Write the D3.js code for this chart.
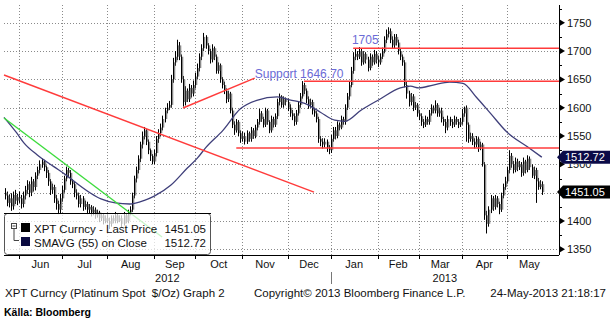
<!DOCTYPE html>
<html><head><meta charset="utf-8">
<script src="https://cdn.jsdelivr.net/npm/d3@7"></script>
<style>body{margin:0;background:#fff}svg{display:block;font-family:"Liberation Sans",Arial,sans-serif}</style>
</head><body><svg id="c" width="612" height="322"></svg>
<script>
// ---- DATA ----
const monthLabels = ["Jun","Jul","Aug","Sep","Oct","Nov","Dec","Jan","Feb","Mar","Apr","May"];
const monthStart  = [0,21,43,66,86,109,131,152,175,195,216,238]; // trading-day index of month start
const yearLabels = ["2012","2013"];
const yearStart = [-7.3,152];
const yTicks = [1350,1400,1450,1500,1550,1600,1650,1700,1750];

const closeMay12=[1445,1432,1440,1426,1446,1436,1442];
const highMay12=[1458,1452,1447,1449,1452,1455,1448];
const lowMay12=[1438,1426,1424,1418,1420,1430,1428];
const closeJun12=[1440,1430,1445,1455,1465,1450,1470,1460,1480,1490,1500,1505,1495,1485,1470,1455,1460,1440,1430,1420,1440];
const highJun12=[1452,1446,1452,1462,1472,1470,1478,1474,1486,1496,1507,1510,1508,1498,1490,1474,1466,1464,1446,1436,1448];
const lowJun12=[1432,1422,1424,1438,1448,1442,1444,1452,1454,1474,1484,1494,1488,1476,1462,1446,1448,1432,1420,1412,1414];
const closeJul12=[1455,1475,1490,1485,1470,1465,1450,1445,1430,1440,1425,1430,1420,1425,1415,1420,1410,1415,1405,1410,1400,1405];
const highJul12=[1462,1480,1496,1494,1490,1474,1470,1456,1450,1446,1444,1436,1434,1430,1428,1426,1424,1420,1418,1414,1414,1410];
const lowJul12=[1434,1450,1470,1478,1464,1458,1442,1438,1424,1424,1418,1420,1412,1414,1408,1410,1404,1406,1398,1400,1394,1396];
const closeAug12=[1400,1395,1405,1400,1410,1400,1405,1395,1410,1400,1415,1420,1445,1475,1490,1510,1535,1550,1560,1540,1525,1515,1505];
const highAug12=[1412,1406,1410,1410,1416,1414,1410,1410,1416,1414,1420,1426,1450,1480,1496,1516,1540,1558,1566,1562,1544,1528,1518];
const lowAug12=[1396,1386,1390,1396,1396,1396,1398,1388,1392,1396,1396,1410,1416,1440,1468,1484,1504,1528,1544,1534,1518,1506,1500];
const closeSep12=[1520,1545,1555,1565,1580,1595,1600,1605,1650,1680,1690,1710,1690,1650,1610,1630,1615,1635,1625,1640];
const highSep12=[1526,1550,1562,1572,1586,1600,1608,1612,1658,1688,1700,1720,1716,1694,1656,1638,1634,1642,1640,1648];
const lowSep12=[1500,1514,1538,1550,1560,1574,1590,1596,1600,1644,1674,1684,1684,1644,1602,1604,1610,1610,1618,1620];
const closeOct12=[1655,1670,1690,1705,1725,1710,1700,1685,1705,1690,1665,1675,1650,1640,1630,1615,1625,1595,1570,1560,1575,1555,1545];
const highOct12=[1662,1678,1696,1712,1732,1728,1714,1704,1712,1708,1694,1680,1678,1654,1646,1634,1630,1628,1600,1576,1580,1578,1560];
const lowOct12=[1634,1650,1664,1684,1700,1704,1694,1678,1680,1684,1660,1660,1644,1634,1624,1608,1610,1590,1564,1552,1556,1550,1538];
const closeNov12=[1550,1540,1555,1545,1560,1550,1565,1575,1590,1580,1570,1595,1575,1560,1580,1570,1585,1610,1620,1605,1615,1610];
const highNov12=[1558,1556,1560,1558,1566,1564,1570,1580,1598,1594,1584,1600,1598,1578,1586,1584,1590,1616,1625,1622,1620,1618];
const lowNov12=[1540,1535,1536,1540,1540,1545,1546,1560,1570,1575,1565,1566,1570,1555,1556,1565,1566,1580,1604,1600,1600,1604];
const closeDec12=[1600,1590,1585,1575,1590,1605,1620,1640,1630,1615,1605,1610,1595,1590,1580,1545,1540,1535,1540,1530,1525];
const highDec12=[1616,1606,1596,1590,1596,1610,1626,1647,1644,1634,1620,1616,1614,1600,1594,1584,1550,1546,1546,1544,1534];
const lowDec12=[1594,1584,1578,1568,1570,1586,1600,1616,1624,1608,1598,1600,1588,1584,1574,1538,1532,1528,1530,1522,1518];
const closeJan13=[1545,1560,1550,1570,1565,1580,1575,1600,1620,1640,1665,1690,1695,1690,1700,1680,1695,1685,1670,1690,1680,1695,1685];
const highJan13=[1552,1566,1566,1576,1574,1586,1584,1606,1626,1646,1672,1698,1704,1700,1707,1704,1700,1698,1690,1696,1694,1702,1700];
const lowJan13=[1520,1540,1544,1546,1560,1562,1570,1570,1596,1614,1636,1660,1684,1684,1686,1674,1676,1678,1664,1666,1674,1676,1678];
const closeFeb13=[1680,1690,1700,1720,1730,1735,1720,1710,1725,1715,1700,1690,1680,1640,1625,1610,1620,1600,1605,1590];
const highFeb13=[1692,1696,1706,1726,1738,1742,1740,1726,1730,1730,1720,1704,1694,1684,1646,1630,1626,1624,1610,1608];
const lowFeb13=[1672,1676,1686,1696,1714,1724,1714,1704,1704,1710,1694,1684,1674,1636,1616,1602,1604,1594,1596,1584];
const closeMar13=[1585,1575,1570,1580,1575,1590,1600,1595,1605,1590,1595,1580,1575,1565,1580,1575,1570,1580,1575,1570,1575];
const highMar13=[1596,1590,1580,1586,1584,1596,1606,1604,1613,1608,1600,1600,1584,1580,1586,1584,1580,1586,1584,1580,1582];
const lowMar13=[1578,1568,1564,1566,1570,1570,1586,1590,1590,1584,1584,1574,1568,1555,1560,1568,1564,1566,1570,1564,1566];
const closeApr13=[1590,1600,1570,1545,1550,1540,1535,1545,1530,1535,1500,1410,1395,1420,1440,1425,1440,1430,1420,1445,1460,1470];
const highApr13=[1598,1602,1604,1574,1556,1555,1546,1550,1548,1540,1538,1504,1418,1426,1446,1444,1446,1444,1434,1450,1466,1478];
const lowApr13=[1570,1584,1540,1538,1540,1534,1528,1530,1522,1525,1496,1402,1378,1390,1414,1418,1420,1424,1412,1416,1440,1455];
const closeMay13=[1490,1515,1500,1490,1505,1495,1500,1485,1505,1490,1510,1495,1480,1490,1470,1460,1465,1451.05];
const highMay13=[1496,1525,1520,1506,1512,1510,1506,1504,1512,1508,1516,1514,1500,1496,1494,1476,1472,1470];
const lowMay13=[1466,1484,1494,1484,1486,1488,1490,1478,1480,1484,1486,1490,1476,1474,1432,1455,1456,1446];
const firstOpen = 1450;
const firstIndex = -7;

// SMAVG(55): trading-day index and value
const smaIdx=[-7.3,-1,2.4,8.8,17,23,28,35,40,47,54,61.5,66,74,82,87,91,99.5,108,116,126,132,140.5,147,154,159,167,176,186,191,195,202,210,216.6,223,230,238,248,255];
const smaVal=[1583,1555,1538,1517,1496,1481,1467,1449,1439,1432,1430,1437,1444,1463,1493,1511,1529,1560,1598,1613,1619,1614,1606,1592,1578,1576,1596,1615,1635,1638,1635,1640,1645,1643,1619,1590,1557,1531,1512.72];

// Annotation trend lines [index, value]
const redTrends=[[[-7.3,1657.7],[143.9,1451]],[[80,1599.5],[115,1652.4]]];
const greenTrend=[[-7.3,1581.8],[69.8,1371.8]];
const hLevels=[{v:1646.70,from:139},{v:1705,from:163},{v:1529,from:106}];
const notes=[{t:"Support 1646.70",i:115,v:1652},{t:"1705",i:162.4,v:1712}];

const lastPrice=1451.05, lastSma=1512.72;

// ---- BUILD ----
const closes=[].concat(closeMay12,closeJun12,closeJul12,closeAug12,closeSep12,closeOct12,closeNov12,closeDec12,closeJan13,closeFeb13,closeMar13,closeApr13,closeMay13);
const highs=[].concat(highMay12,highJun12,highJul12,highAug12,highSep12,highOct12,highNov12,highDec12,highJan13,highFeb13,highMar13,highApr13,highMay13);
const lows=[].concat(lowMay12,lowJun12,lowJul12,lowAug12,lowSep12,lowOct12,lowNov12,lowDec12,lowJan13,lowFeb13,lowMar13,lowApr13,lowMay13);
const bars=closes.map((c,k)=>({i:firstIndex+k,o:k?closes[k-1]:firstOpen,c,h:highs[k],l:lows[k]}));

const svg=d3.select("#c");
const L=4,R=559,T=5,B=255;
const x=d3.scaleLinear().domain([-7.3,263.4]).range([L,R]);
const y=d3.scaleLinear().domain([1340,1781.3]).range([B,T]);

// grid
const g=svg.append("g");
g.selectAll(".hg").data(yTicks).join("line").attr("x1",L).attr("x2",R)
 .attr("y1",d=>Math.round(y(d))+0.5).attr("y2",d=>Math.round(y(d))+0.5)
 .attr("stroke","#8a8a8a").attr("stroke-dasharray","1,2");
g.selectAll(".vg").data(monthStart).join("line").attr("y1",T).attr("y2",B)
 .attr("x1",d=>Math.round(x(d))+0.5).attr("x2",d=>Math.round(x(d))+0.5)
 .attr("stroke","#8a8a8a").attr("stroke-dasharray","1,2");

// candles
const cg=svg.append("g");
cg.selectAll("line").data(bars).join("line")
 .attr("x1",d=>Math.round(x(d.i))+0.5).attr("x2",d=>Math.round(x(d.i))+0.5)
 .attr("y1",d=>y(d.h)).attr("y2",d=>y(d.l)).attr("stroke","#000").attr("stroke-width",1);
cg.selectAll("rect").data(bars).join("rect")
 .attr("x",d=>Math.round(x(d.i))+1).attr("width",1.3)
 .attr("y",d=>y(Math.max(d.o,d.c))).attr("height",d=>Math.max(1,Math.abs(y(d.o)-y(d.c))))
 .attr("fill","#8a8a8a");

// SMA
svg.append("path").datum(smaIdx.map((d,k)=>[d,smaVal[k]]))
 .attr("d",d3.line().x(d=>x(d[0])).y(d=>y(d[1])).curve(d3.curveMonotoneX))
 .attr("fill","none").attr("stroke","#3f3f7a").attr("stroke-width",1.3);

// trend lines
const ln=d3.line().x(d=>x(d[0])).y(d=>y(d[1]));
redTrends.forEach(t=>svg.append("path").attr("d",ln(t)).attr("stroke","#ff3b3b").attr("stroke-width",1.4).attr("fill","none"));
svg.append("path").attr("d",ln(greenTrend)).attr("stroke","#3ddc3d").attr("stroke-width",1.4).attr("fill","none");
hLevels.forEach(h=>svg.append("line").attr("x1",x(h.from)).attr("x2",R).attr("y1",y(h.v)).attr("y2",y(h.v))
 .attr("stroke","#ff3b3b").attr("stroke-width",1.5));
notes.forEach(n=>svg.append("text").attr("x",x(n.i)).attr("y",y(n.v)).text(n.t)
 .attr("fill","#6b6bd6").attr("font-size",12));

// legend
const lg=svg.append("g");
lg.append("rect").attr("x",4.5).attr("y",213.5).attr("width",206).attr("height",41).attr("rx",3)
 .attr("fill","#fff").attr("fill-opacity",0.72).attr("stroke","#555");
lg.append("line").attr("x1",4).attr("x2",211).attr("y1",213.5).attr("y2",213.5).attr("stroke","#000");
lg.append("rect").attr("x",11.5).attr("y",223.5).attr("width",5).attr("height",5).attr("fill","#fff").attr("stroke","#444");
lg.append("line").attr("x1",12.5).attr("x2",15.5).attr("y1",226).attr("y2",226).attr("stroke","#444");
lg.append("path").attr("d","M14,229V240.5H19").attr("fill","none").attr("stroke","#444");
const legItems=[{t:"XPT Curncy - Last Price",v:lastPrice,c:"#000"},{t:"SMAVG (55) on Close",v:lastSma,c:"#0a0a40"}];
legItems.forEach((d,k)=>{
  const yy=223+k*14;
  lg.append("rect").attr("x",21).attr("y",yy).attr("width",9).attr("height",9).attr("fill",d.c);
  lg.append("text").attr("x",34).attr("y",yy+9.5).text(d.t).attr("font-size",11.5).attr("fill","#111");
  lg.append("text").attr("x",206).attr("y",yy+9.5).text(d.v.toFixed(2)).attr("font-size",11.5).attr("fill","#111").attr("text-anchor","end");
});

// right axis
const ax=svg.append("g");
const tags=[{v:lastSma,c:"#0b0b48"},{v:lastPrice,c:"#000"}];
// clip tick labels where the value tags cover them
svg.append("defs").append("clipPath").attr("id","tagclip").append("path")
 .attr("d",()=>{const a=y(lastSma)+6.5,b=y(lastPrice)-6.5,c=y(lastPrice)+6.5;
   return `M${R},0H612V${y(lastSma)-6.5}H${R}Z M${R},${a}H612V${b}H${R}Z M${R},${c}H612V322H${R}Z`;});
ax.append("line").attr("x1",R+0.5).attr("x2",R+0.5).attr("y1",T).attr("y2",B).attr("stroke","#000");
ax.selectAll(".mt").data(d3.range(1350,1781,25)).join("line")
 .attr("x1",R).attr("x2",R+3).attr("y1",d=>Math.round(y(d))+0.5).attr("y2",d=>Math.round(y(d))+0.5).attr("stroke","#000");
ax.selectAll(".tri").data(yTicks).join("path")
 .attr("d",d=>{const yy=y(d);return `M${R+1},${yy-3}L${R+6},${yy}L${R+1},${yy+3}Z`;}).attr("fill","#000");
const visTicks=yTicks.filter(d=>Math.abs(y(d)-y(lastPrice))>6 || false);
ax.append("g").attr("clip-path","url(#tagclip)").selectAll("text").data(visTicks.filter(d=>Math.abs(y(d)-y(lastSma))>9)).join("text")
 .attr("x",R+8).attr("y",d=>y(d)+4).text(d=>d).attr("font-size",11).attr("fill","#111");
// partially hidden label under the SMA tag (only lower part shows)
ax.append("g").attr("clip-path","url(#tagclip)").selectAll("text").data(visTicks.filter(d=>Math.abs(y(d)-y(lastSma))<=9)).join("text")
 .attr("x",R+8).attr("y",d=>y(d)+4).text(d=>d).attr("font-size",11).attr("fill","#111");
// value tags
tags.forEach(tg=>{
  const yy=y(tg.v);
  ax.append("path").attr("d",`M${R-2},${yy}L${R+4},${yy-6.5}H610V${yy+6.5}H${R+4}Z`).attr("fill",tg.c);
  ax.append("text").attr("x",R+6).attr("y",yy+4).text(tg.v.toFixed(2)).attr("font-size",11).attr("fill","#fff");
});

// bottom axis
const bx=svg.append("g");
bx.append("line").attr("x1",L).attr("x2",R).attr("y1",B+0.5).attr("y2",B+0.5).attr("stroke","#000");
bx.selectAll(".bt").data(monthStart).join("line").attr("x1",d=>Math.round(x(d))+0.5).attr("x2",d=>Math.round(x(d))+0.5)
 .attr("y1",B).attr("y2",B+4).attr("stroke","#000");
const ends=monthStart.slice(1).concat([260]);
bx.selectAll(".ml").data(monthLabels).join("text").attr("x",(d,k)=>(x(monthStart[k])+x(ends[k]))/2).attr("y",268)
 .attr("text-anchor","middle").text(d=>d).attr("font-size",11).attr("fill","#111");
const yEnds=[152,263.4];
bx.selectAll(".yl").data(yearLabels).join("text").attr("x",(d,k)=>(x(yearStart[k])+x(yEnds[k]))/2).attr("y",282)
 .attr("text-anchor","middle").text(d=>d).attr("font-size",11).attr("fill","#111");
bx.append("line").attr("x1",Math.round(x(yearStart[1]))+0.5).attr("x2",Math.round(x(yearStart[1]))+0.5).attr("y1",272).attr("y2",284).attr("stroke","#777");

// footer
svg.append("text").attr("x",5).attr("y",297).text("XPT Curncy (Platinum Spot  $/Oz) Graph 2").attr("font-size",11.5).attr("fill","#111").style("white-space","pre");
svg.append("text").attr("x",254).attr("y",297).text("Copyright\u00A9 2013 Bloomberg Finance L.P.").attr("font-size",11.5).attr("fill","#111");
svg.append("text").attr("x",606).attr("y",297).attr("text-anchor","end").text("24-May-2013 21:18:17").attr("font-size",11.5).attr("fill","#111");
svg.append("text").attr("x",4).attr("y",316).text("Källa: Bloomberg").attr("font-size",10.5)
 .attr("font-family","'Liberation Sans Narrow','Arial Narrow','Liberation Sans',sans-serif").attr("font-weight","bold").attr("fill","#000");
</script></body></html>
